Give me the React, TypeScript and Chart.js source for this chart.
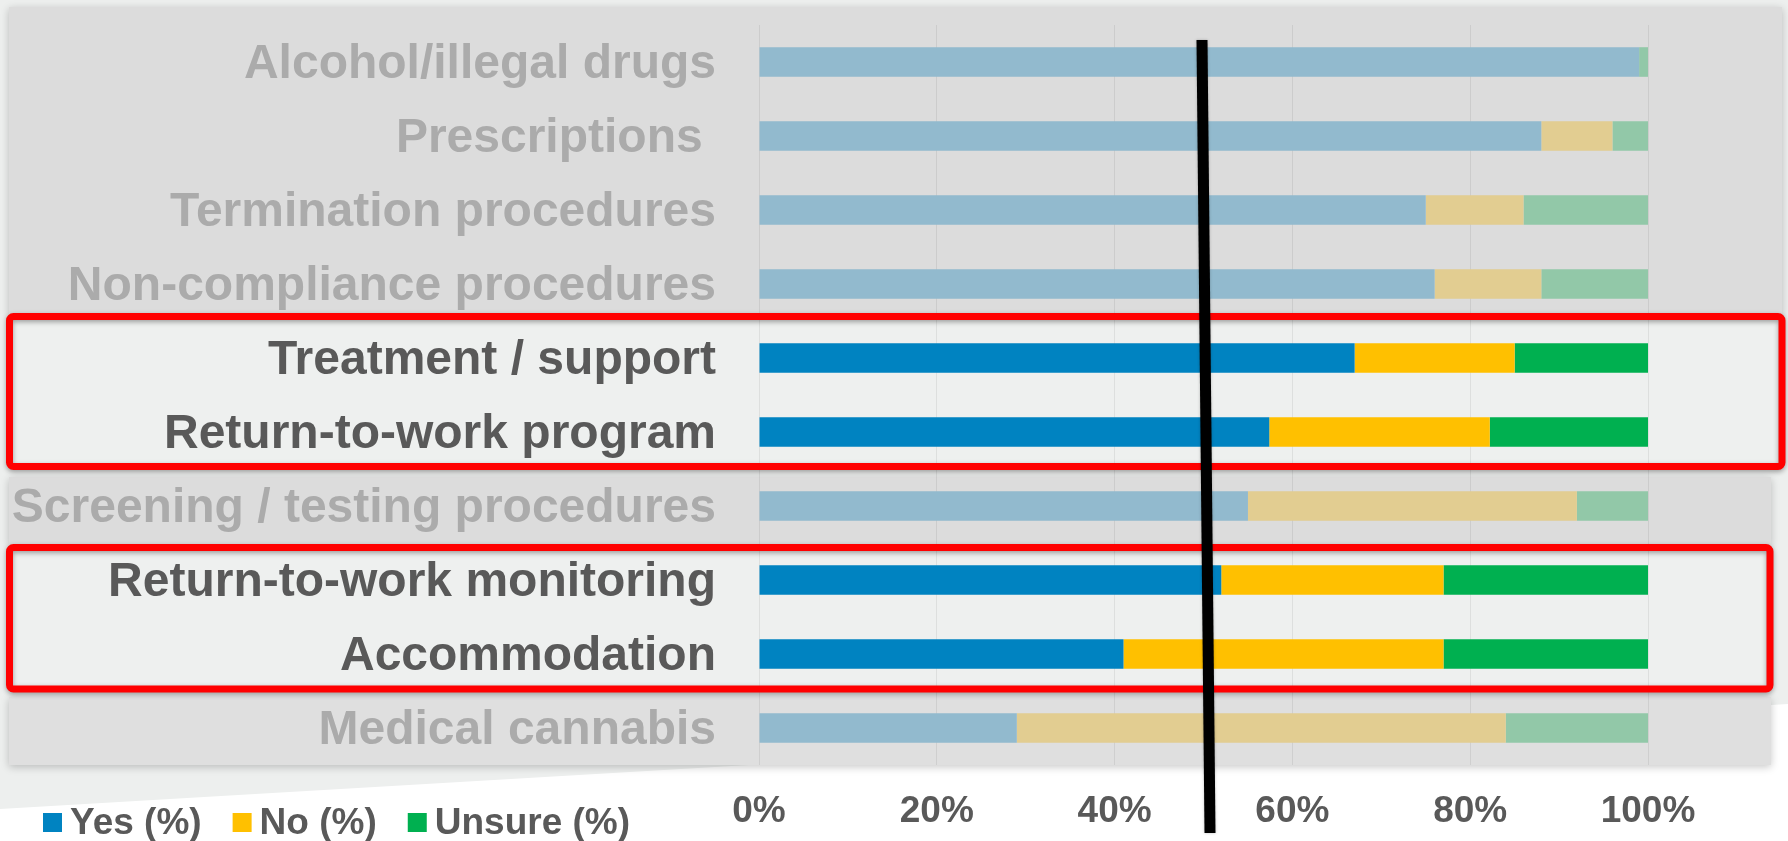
import React, { useEffect, useRef } from "react";
import { Chart, registerables } from "chart.js";

Chart.register(...registerables);

const categories = [
  "Alcohol/illegal drugs",
  "Prescriptions ",
  "Termination procedures",
  "Non-compliance procedures",
  "Treatment / support",
  "Return-to-work program",
  "Screening / testing procedures",
  "Return-to-work monitoring",
  "Accommodation",
  "Medical cannabis",
];
const yesValues = [99, 88, 75, 76, 67, 57.4, 55, 52, 41, 29];
const noValues = [0, 8, 11, 12, 18, 24.8, 37, 25, 36, 55];
const unsureValues = [1, 4, 14, 12, 15, 17.8, 8, 23, 23, 16];
const highlighted = [false, false, false, false, true, true, false, true, true, false];
const xTickValues = [0, 20, 40, 60, 80, 100];
const xTickLabels = ["0%", "20%", "40%", "60%", "80%", "100%"];
const seriesNames = ["Yes (%)", "No (%)", "Unsure (%)"];
const brightColors = ["#0083C1", "#FFC000", "#00B050"];
const fadedColors = ["#92BACE", "#E2CD91", "#92C8A8"];

const FONT = '"Liberation Sans", Arial, Helvetica, sans-serif';

const bgPlugin = {
  id: "slideBg",
  beforeDraw(chart: any) {
    const { ctx, width, height } = chart;
    const y = chart.scales.y;
    const step = y.getPixelForValue(1) - y.getPixelForValue(0);
    const b = (i: number) => y.getPixelForValue(i) - step / 2;
    ctx.save();
    ctx.fillStyle = "#ffffff";
    ctx.fillRect(0, 0, width, height);
    ctx.fillStyle = "#EDEFEE";
    ctx.beginPath();
    ctx.moveTo(0, 0);
    ctx.lineTo(width, 0);
    ctx.lineTo(width, 704);
    ctx.lineTo(0, 809);
    ctx.closePath();
    ctx.fill();

    const band = (x0: number, y0: number, x1: number, y1: number, color: string) => {
      ctx.save();
      ctx.shadowColor = "rgba(0,0,0,0.22)";
      ctx.shadowBlur = 8;
      ctx.shadowOffsetY = 2;
      ctx.fillStyle = color;
      ctx.fillRect(x0, y0, x1 - x0, y1 - y0);
      ctx.restore();
    };
    band(9, 7, 1782, b(4) - 4, "#DCDCDC");
    band(9, b(6) + 8, 1771, b(7) + 2, "#DCDCDC");
    band(9, b(9) + 6, 1771, y.bottom, "#DFDFDF");

    ctx.fillStyle = "#EEF0EF";
    ctx.fillRect(9, b(4) - 4.5, 1782 - 9, b(6) - 2.5 - (b(4) - 4.5));
    ctx.fillRect(9, b(7) + 4.5, 1770 - 9, b(9) - 2 - (b(7) + 4.5));
    ctx.restore();
  },
};

const overlayPlugin = {
  id: "overlay",
  afterDatasetsDraw(chart: any) {
    const { ctx } = chart;
    const y = chart.scales.y;
    const x = chart.scales.x;
    const step = y.getPixelForValue(1) - y.getPixelForValue(0);
    const b = (i: number) => y.getPixelForValue(i) - step / 2;
    ctx.save();
    ctx.shadowColor = "rgba(0,0,0,0.35)";
    ctx.shadowBlur = 5;
    ctx.shadowOffsetY = 2;
    ctx.strokeStyle = "#FF0000";
    ctx.lineWidth = 7;
    ctx.lineJoin = "round";
    const box = (x0: number, y0: number, x1: number, y1: number) => {
      ctx.beginPath();
      ctx.roundRect(x0, y0, x1 - x0, y1 - y0, 4);
      ctx.stroke();
    };
    box(9.5, b(4) - 4.5, 1782, b(6) - 2.5);
    box(9.5, b(7) + 4.5, 1770, b(9) - 2);

    const x50 = x.getPixelForValue(50);
    ctx.shadowColor = "rgba(0,0,0,0.25)";
    ctx.shadowBlur = 3;
    ctx.shadowOffsetY = 0;
    ctx.strokeStyle = "#000000";
    ctx.lineWidth = 11;
    ctx.lineCap = "butt";
    ctx.beginPath();
    ctx.moveTo(x50 - 1.5, 40);
    ctx.lineTo(x50 + 6.5, 833);
    ctx.stroke();
    ctx.restore();
  },
  afterDraw(chart: any) {
    const { ctx } = chart;
    ctx.save();
    ctx.font = `bold 37px ${FONT}`;
    ctx.textBaseline = "alphabetic";
    ctx.textAlign = "left";
    let px = 43;
    chart.data.datasets.forEach((ds: any, i: number) => {
      ctx.fillStyle = brightColors[i];
      ctx.fillRect(px, 813, 19, 19);
      px += 27;
      ctx.fillStyle = "#595959";
      ctx.fillText(ds.label, px, 834);
      px += ctx.measureText(ds.label).width + 31;
    });
    ctx.restore();
  },
};

export default function App() {
  const ref = useRef<HTMLCanvasElement | null>(null);
  useEffect(() => {
    document.body.style.margin = "0";
    if (!ref.current) return;
    const valueSets = [yesValues, noValues, unsureValues];
    const chart = new Chart(ref.current, {
      type: "bar",
      data: {
        labels: categories,
        datasets: valueSets.map((vals, i) => ({
          label: seriesNames[i],
          data: vals,
          backgroundColor: categories.map((_, j) => (highlighted[j] ? brightColors[i] : fadedColors[i])),
          borderWidth: 0,
          categoryPercentage: 0.4,
          barPercentage: 1,
        })),
      },
      options: {
        indexAxis: "y",
        responsive: false,
        animation: false,
        layout: { padding: { left: 0, right: 140, top: 25, bottom: 0 } },
        plugins: {
          legend: { display: false },
          tooltip: { enabled: false },
        },
        scales: {
          x: {
            stacked: true,
            min: 0,
            max: 100,
            afterBuildTicks: (scale: any) => {
              scale.ticks = xTickValues.map((v) => ({ value: v }));
            },
            afterFit: (scale: any) => {
              scale.height = 76;
              scale.paddingLeft = 0;
              scale.paddingRight = 0;
            },
            grid: { color: "rgba(0,0,0,0.07)", lineWidth: 1, drawTicks: false },
            border: { display: false },
            ticks: {
              padding: 25,
              color: "#595959",
              font: { family: FONT, size: 37, weight: "bold" },
              callback: (_v: any, index: number) => xTickLabels[index],
            },
          },
          y: {
            stacked: true,
            afterFit: (scale: any) => {
              scale.width = 759;
              scale.paddingTop = 0;
              scale.paddingBottom = 0;
            },
            grid: { display: false, drawTicks: false },
            border: { display: false },
            ticks: {
              padding: 43,
              labelOffset: 3,
              color: (c: any) => (highlighted[c.index] ? "#595959" : "#ABABAB"),
              font: { family: FONT, size: 48, weight: "bold" },
            },
          },
        },
      },
      plugins: [bgPlugin, overlayPlugin],
    } as any);
    return () => chart.destroy();
  }, []);
  return (
    <div style={{ position: "fixed", left: 0, top: 0, width: 1788, height: 841 }}>
      <canvas ref={ref} width={1788} height={841} style={{ width: 1788, height: 841 }} />
    </div>
  );
}
